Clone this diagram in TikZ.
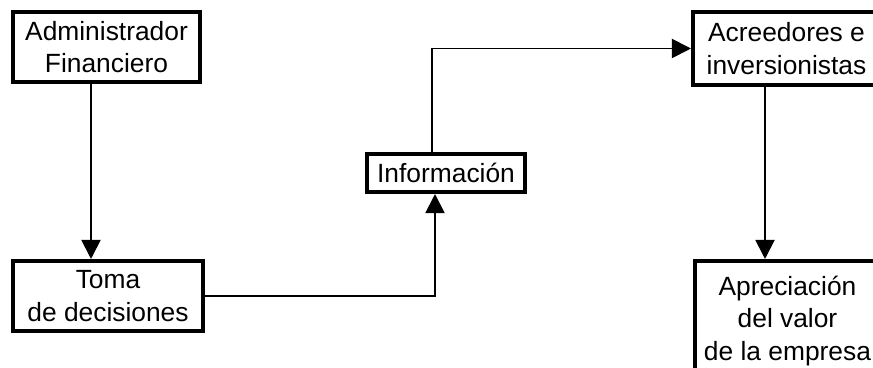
\documentclass[tikz,border=0pt]{standalone}
\usepackage{fontspec}
\setmainfont{Liberation Sans}
\usetikzlibrary{arrows.meta}

\begin{document}
\begin{tikzpicture}[
    bloque/.style={draw, line width=2.3pt, align=center, inner sep=0pt, font=\fontsize{15}{18.5}\selectfont},
    flecha/.style={-{Triangle[length=0.38cm, width=0.38cm]}, line width=1.1pt}
  ]
        \useasboundingbox (0, 0) rectangle (17.46, 7.36);
        \node[bloque, minimum width=3.74cm, minimum height=1.4cm] at (2.13, 6.42)   (adm) {Administrador\\Financiero};
        \node[bloque, minimum width=3.8cm, minimum height=1.4cm] at (2.16, 1.44)   (toma) {Toma\\de decisiones};
        \node[bloque, minimum width=3.16cm, minimum height=0.76cm] at (8.92, 3.9)   (info) {Información};
        \node[bloque, minimum width=3.74cm, minimum height=1.46cm] at (15.73, 6.39)   (acre) {Acreedores e\\inversionistas};
        \node[bloque, minimum width=3.7cm, minimum height=2.4cm] at (15.75, 0.94)   (apre) {Apreciación\\del valor\\de la empresa};
        % vertical lines
        \coordinate (xa) at (1.82, 0);
        \coordinate (xb) at (15.3, 0);
        \draw [flecha] (adm.south -| xa) -- (toma.north -| xa);
        \draw [flecha] (acre.south -| xb) -- (apre.north -| xb);
        % through the information box
        \draw [flecha] (toma.east) -| ([xshift=-0.22cm]info.south);
        \draw [flecha] ([xshift=-0.28cm]info.north) |- (acre.west);
    \end{tikzpicture}
\end{document}
